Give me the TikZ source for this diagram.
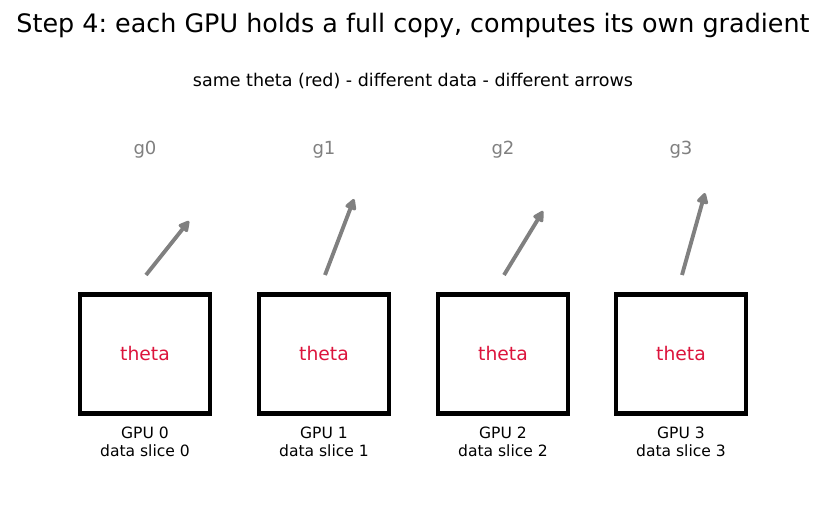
\documentclass[tikz,border=0pt]{standalone}
\usepackage{fontspec}
\setmainfont{DejaVu Sans}
\usetikzlibrary{arrows.meta,positioning}
\definecolor{thetared}{HTML}{DC143C}
\frenchspacing
\begin{document}
\begin{tikzpicture}[
			x=0.72pt, y=-0.72pt,
			gpubox/.style={draw, line width=3.4pt, minimum width=93.6pt, minimum height=85.7pt, inner sep=0pt},
			gradarrow/.style={draw=gray, line width=2.8pt, -{Triangle[length=9pt, width=9pt, round]}},
			gradlabel/.style={text=gray, font=\fontsize{13}{15}\selectfont},
			sublabel/.style={align=center, font=\fontsize{11.2}{13}\selectfont, inner sep=0pt}
		]
		\useasboundingbox (0,0) rectangle (826,512);
		\node (title) at (413,25) {\fontsize{18.3}{21}\selectfont Step 4: each GPU holds a full copy, computes its own gradient};
		\node (subtitle) at (413,81) {\fontsize{12.6}{15}\selectfont same theta (red) - different data - different arrows};
		% one box per GPU, with its own gradient arrow
		\foreach \i/\x/\dx/\dy in {0/145/43/-54, 1/324/29/-76, 2/503/39/-64, 3/681/23/-82} {
				\node[gpubox] (gpu\i) at (\x,354) {\textcolor{thetared}{\fontsize{13.5}{15}\selectfont theta}};
				\node[sublabel, below=8pt of gpu\i.south] (slice\i) {GPU \i\\data slice \i};
				\node[gradlabel] (g\i) at (\x,150) {g\i};
				\coordinate (gs\i) at (\x+1,275);
				\coordinate (ge\i) at (\x+1+\dx,275+\dy);
				\draw[gradarrow] (gs\i) -- (ge\i);
			}
	\end{tikzpicture}
\end{document}
